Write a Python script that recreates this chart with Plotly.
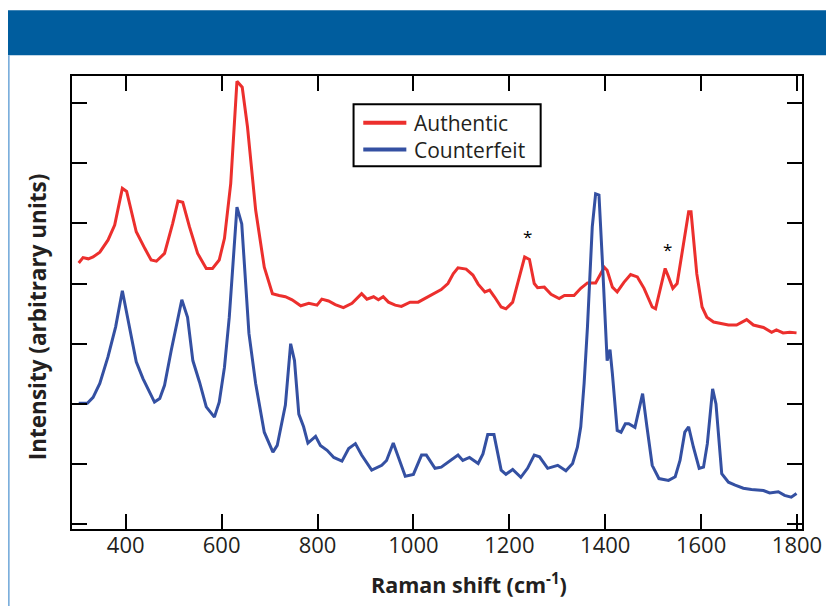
import plotly.graph_objects as go

# ---- data ----
auth_x = [302, 311, 322, 332, 346, 363, 377, 393, 402, 422, 440, 453, 464, 481, 498, 509, 519, 533, 550, 568,
          581, 595, 606, 619, 632, 643, 654, 671, 689, 706, 720, 733, 747, 765, 782, 799, 809, 823, 837, 854,
          872, 892, 903, 917, 927, 937, 948, 962, 975, 993, 1010, 1024, 1041, 1058, 1072, 1083, 1093, 1110, 1124, 1135,
          1149, 1159, 1169, 1183, 1193, 1207, 1221, 1232, 1242, 1252, 1259, 1273, 1287, 1304, 1315, 1335, 1349, 1363, 1380, 1387,
          1398, 1404, 1415, 1425, 1439, 1453, 1467, 1481, 1498, 1505, 1515, 1525, 1532, 1541, 1550, 1564, 1574, 1579, 1591, 1602,
          1612, 1626, 1647, 1657, 1674, 1695, 1709, 1730, 1747, 1757, 1771, 1785, 1799]
auth_y = [4.34, 4.43, 4.41, 4.44, 4.52, 4.72, 4.97, 5.58, 5.53, 4.86, 4.58, 4.39, 4.37, 4.50, 5.00, 5.37, 5.35, 4.94, 4.50, 4.25,
          4.25, 4.39, 4.75, 5.66, 7.36, 7.26, 6.60, 5.22, 4.27, 3.83, 3.80, 3.78, 3.73, 3.63, 3.67, 3.64, 3.74, 3.71, 3.65, 3.60,
          3.67, 3.83, 3.74, 3.78, 3.73, 3.78, 3.69, 3.64, 3.62, 3.69, 3.69, 3.75, 3.83, 3.90, 4.00, 4.16, 4.26, 4.24, 4.14, 3.99,
          3.86, 3.89, 3.78, 3.61, 3.58, 3.69, 4.11, 4.44, 4.40, 4.00, 3.93, 3.94, 3.82, 3.75, 3.80, 3.80, 3.92, 4.01, 4.01, 4.11,
          4.27, 4.22, 3.94, 3.86, 4.02, 4.15, 4.11, 3.92, 3.61, 3.58, 3.89, 4.25, 4.11, 3.92, 4.00, 4.66, 5.19, 5.19, 4.16, 3.61,
          3.44, 3.36, 3.33, 3.31, 3.31, 3.40, 3.31, 3.27, 3.19, 3.23, 3.18, 3.19, 3.18]

fake_x = [302, 320, 332, 346, 363, 379, 393, 402, 422, 436, 460, 471, 481, 495, 509, 517, 529, 540, 554, 568,
          585, 595, 606, 616, 632, 642, 657, 671, 689, 707, 716, 733, 744, 752, 761, 771, 780, 796, 806, 820,
          834, 851, 865, 879, 892, 913, 934, 944, 958, 972, 983, 1000, 1017, 1027, 1045, 1058, 1076, 1093, 1103, 1117,
          1135, 1145, 1155, 1168, 1183, 1193, 1207, 1224, 1238, 1252, 1263, 1280, 1301, 1318, 1332, 1342, 1349, 1356, 1363, 1373,
          1380, 1387, 1394, 1400, 1404, 1410, 1415, 1425, 1433, 1442, 1449, 1462, 1470, 1478, 1487, 1498, 1512, 1532, 1546, 1556,
          1566, 1574, 1584, 1596, 1605, 1613, 1624, 1631, 1643, 1657, 1671, 1688, 1705, 1730, 1743, 1761, 1774, 1788, 1799]
fake_y = [2.01, 2.01, 2.11, 2.34, 2.78, 3.28, 3.88, 3.50, 2.70, 2.42, 2.03, 2.09, 2.31, 2.89, 3.39, 3.73, 3.44, 2.72, 2.36, 1.95,
          1.78, 2.03, 2.61, 3.44, 5.27, 4.99, 3.17, 2.34, 1.53, 1.20, 1.31, 1.98, 3.00, 2.72, 1.83, 1.62, 1.35, 1.46, 1.31, 1.23,
          1.11, 1.05, 1.26, 1.34, 1.15, 0.90, 0.98, 1.06, 1.35, 1.06, 0.80, 0.83, 1.15, 1.15, 0.93, 0.95, 1.06, 1.15, 1.06, 1.11,
          1.01, 1.17, 1.49, 1.49, 0.90, 0.83, 0.91, 0.78, 0.93, 1.15, 1.12, 0.93, 0.98, 0.89, 1.01, 1.28, 1.62, 2.34, 3.28, 4.94,
          5.49, 5.47, 4.39, 3.39, 2.72, 2.90, 2.50, 1.56, 1.53, 1.67, 1.67, 1.61, 1.89, 2.17, 1.62, 0.98, 0.76, 0.73, 0.79, 1.06,
          1.53, 1.62, 1.28, 0.93, 0.95, 1.34, 2.25, 2.00, 0.84, 0.70, 0.65, 0.60, 0.58, 0.56, 0.52, 0.54, 0.48, 0.45, 0.51]

series_names = ["Authentic", "Counterfeit"]
star_x = [1238, 1529]
star_y = [4.78, 4.57]
x_ticks = [400, 600, 800, 1000, 1200, 1400, 1600, 1800]
y_ticks = [0, 1, 2, 3, 4, 5, 6, 7]
x_title = "<b>Raman shift (cm<sup>-1</sup>)</b>"
y_title = "<b>Intensity (arbitrary units)</b>"

RED = "#EC2F2D"
BLUE = "#3450A2"
FONT = "Open Sans"
TXT = "#231F20"

fig = go.Figure()
fig.add_trace(go.Scatter(x=auth_x, y=auth_y, mode="lines", name=series_names[0],
                         line=dict(color=RED, width=3), showlegend=False))
fig.add_trace(go.Scatter(x=fake_x, y=fake_y, mode="lines", name=series_names[1],
                         line=dict(color=BLUE, width=3), showlegend=False))

annotations = []
for sx, sy in zip(star_x, star_y):
    annotations.append(dict(x=sx, y=sy, xref="x", yref="y", text="*", showarrow=False,
                            font=dict(family=FONT, size=17, color="#000000")))

# legend (drawn manually to match the reference box)
shapes = [
    dict(type="rect", xref="paper", yref="paper", x0=0.3857, x1=0.642, y0=0.8007, y1=0.9375,
         line=dict(color="#000000", width=2), fillcolor="white", layer="above"),
    dict(type="line", xref="paper", yref="paper", x0=0.399, x1=0.458, y0=0.897, y1=0.897,
         line=dict(color=RED, width=4), layer="above"),
    dict(type="line", xref="paper", yref="paper", x0=0.399, x1=0.458, y0=0.838, y1=0.838,
         line=dict(color=BLUE, width=4), layer="above"),
    # header band
    dict(type="rect", xref="paper", yref="paper", x0=-0.1, x1=1.05, y0=1.0457, y1=1.145,
         line=dict(width=0), fillcolor="#005D9E", layer="above"),
    # thin left rule
    dict(type="line", xref="paper", yref="paper", x0=-0.0865, x1=-0.0865, y0=-0.18, y1=1.0457,
         line=dict(color="#6EA6D8", width=1.5), layer="above"),
]
annotations.append(dict(x=0.466, y=0.8675, xref="paper", yref="paper",
                        text="<br>".join(series_names), align="left",
                        xanchor="left", yanchor="middle", showarrow=False,
                        font=dict(family=FONT, size=21, color=TXT)))
# axis titles
annotations.append(dict(x=0.544, y=-0.12, xref="paper", yref="paper", text=x_title,
                        xanchor="center", yanchor="middle", showarrow=False,
                        font=dict(family=FONT, size=21.5, color=TXT)))
annotations.append(dict(x=-0.0463, y=0.468, xref="paper", yref="paper", text=y_title,
                        textangle=-90, xanchor="center", yanchor="middle", showarrow=False,
                        font=dict(family=FONT, size=22.5, color=TXT)))

fig.update_layout(
    width=826, height=598,
    margin=dict(l=64, r=28, t=68, b=77),
    paper_bgcolor="white", plot_bgcolor="white",
    shapes=shapes, annotations=annotations,
    font=dict(family=FONT, color=TXT),
    xaxis=dict(range=[288, 1810.4], tickvals=x_ticks, ticks="inside", ticklen=15, tickwidth=2,
               tickcolor="black", showline=True, linecolor="black", linewidth=2, mirror="ticks",
               showgrid=False, zeroline=False, tickfont=dict(family=FONT, size=22, color=TXT),
               ticklabelstandoff=-4),
    yaxis=dict(range=[-0.078, 7.447], tickvals=y_ticks, ticks="inside", ticklen=15, tickwidth=2,
               tickcolor="black", showline=True, linecolor="black", linewidth=2, mirror="ticks",
               showgrid=False, zeroline=False, showticklabels=False),
)

fig.write_html("out.html")
